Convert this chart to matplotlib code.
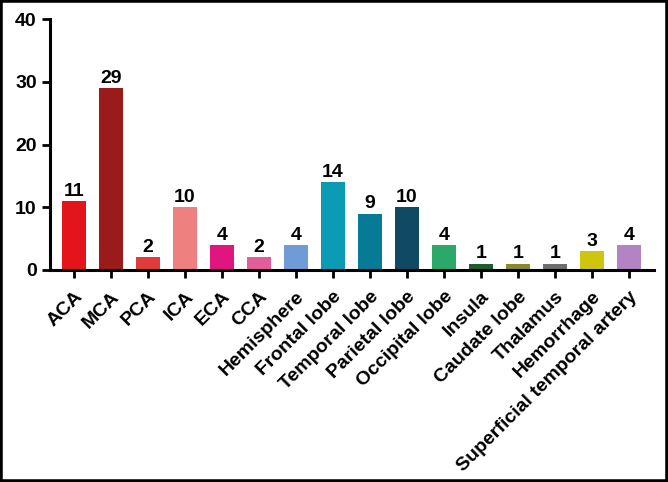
import matplotlib.pyplot as plt
from matplotlib.patches import Rectangle

categories = ['ACA', 'MCA', 'PCA', 'ICA', 'ECA', 'CCA', 'Hemisphere', 'Frontal lobe',
              'Temporal lobe', 'Parietal lobe', 'Occipital lobe', 'Insula', 'Caudate lobe',
              'Thalamus', 'Hemorrhage', 'Superficial temporal artery']
counts = [11, 29, 2, 10, 4, 2, 4, 14, 9, 10, 4, 1, 1, 1, 3, 4]
colors = ['#e3151b', '#9b1b1b', '#e03a3a', '#ee8080', '#e0157f', '#e35d9a', '#6f9bd6',
          '#0b9bb5', '#077a96', '#0f4a62', '#2aa96b', '#1c5e2e', '#8a8a2a', '#6e6e6e',
          '#cfc50c', '#b483c3']

plt.rcParams['font.family'] = ['Liberation Sans', 'DejaVu Sans']
plt.rcParams['font.weight'] = 'bold'

fig = plt.figure(figsize=(6.68, 4.82), dpi=100)
ax = fig.add_axes([50 / 668, 1 - 270 / 482, 604 / 668, 251 / 482])

x = list(range(len(categories)))
bars = ax.bar(x, counts, width=0.65, color=colors)
ax.bar_label(bars, labels=[str(c) for c in counts], padding=1, fontsize=14, fontweight='bold')

ax.set_xlim(-0.65, 15.68)
ax.set_ylim(0, 40)
ax.set_yticks([0, 10, 20, 30, 40])
ax.set_xticks(x)
ax.set_xticklabels(categories, rotation=45, ha='right', rotation_mode='anchor', fontsize=14,
                   fontweight='bold')
for lbl in ax.get_yticklabels():
    lbl.set_fontsize(14)
    lbl.set_fontweight('bold')

for s in ['top', 'right']:
    ax.spines[s].set_visible(False)
for s in ['left', 'bottom']:
    ax.spines[s].set_linewidth(2.2)
ax.tick_params(axis='both', length=6, width=2)
ax.tick_params(axis='x', pad=7)
ax.tick_params(axis='y', pad=3.5)
ax.spines['left'].set_bounds(0, 40)

fig.patches.append(Rectangle((0, 0), 1, 1, transform=fig.transFigure, fill=False,
                             edgecolor='black', linewidth=4, zorder=10))

fig.savefig('out.png', dpi=100)
